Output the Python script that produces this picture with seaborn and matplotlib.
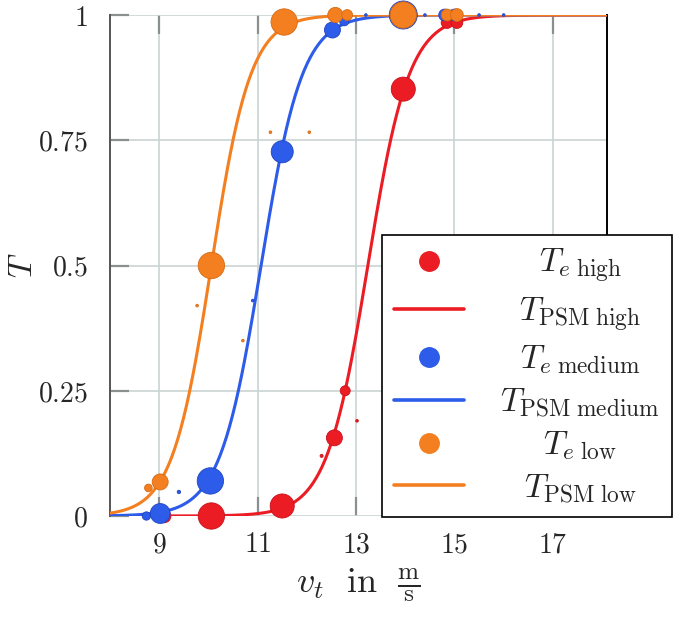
import numpy as np
import pandas as pd
import matplotlib.pyplot as plt
import seaborn as sns
from matplotlib.lines import Line2D

# measured transmission T_e per turbulence class (x = v_t, y = T, w = weight)
high_x = [9.1, 10.06, 11.5, 12.3, 12.56, 12.78, 13.02, 13.96, 14.85, 15.05]
high_y = [0.0, 0.0, 0.02, 0.12, 0.156, 0.25, 0.19, 0.852, 0.985, 0.985]
high_w = [8, 30, 25, 0.4, 11, 4.3, 0.3, 25, 6, 6]

med_x = [8.74, 9.02, 9.4, 10.04, 10.9, 11.5, 12.52, 12.76, 13.2, 13.96, 14.2, 14.4, 14.8, 15.0, 15.5, 16.0]
med_y = [0.0, 0.005, 0.048, 0.07, 0.43, 0.727, 0.97, 0.988, 1.0, 1.0, 1.0, 1.0, 1.0, 1.0, 1.0, 1.0]
med_w = [3, 17, 0.5, 30, 0.3, 21, 11, 4, 0.3, 34, 0.3, 0.3, 6, 6, 0.3, 0.3]

low_x = [8.78, 9.02, 9.77, 10.06, 10.7, 11.26, 11.54, 12.05, 12.58, 12.82, 13.96, 14.85, 15.05]
low_y = [0.056, 0.068, 0.42, 0.5, 0.35, 0.766, 0.986, 0.766, 1.0, 1.0, 1.0, 1.0, 1.0]
low_w = [2.5, 11, 0.3, 30, 0.3, 0.3, 30, 0.3, 10, 5, 30, 6, 7]

# PSM model (logistic): midpoint and scale per class
psm_mid = {"high": 13.24, "medium": 11.07, "low": 10.06}
psm_scale = {"high": 0.42, "medium": 0.42, "low": 0.40}

colors = {"high": "#ec1c24", "medium": "#2d5bea", "low": "#f47f20"}
edges = {"high": "#c8101a", "medium": "#1f45c0", "low": "#d56a12"}

sns.set_style("white")
plt.rcParams["mathtext.fontset"] = "cm"
plt.rcParams["font.family"] = ["DejaVu Serif"]

fig = plt.figure(figsize=(6.85, 6.26), dpi=100)
ax = fig.add_axes([110 / 685, 1 - 516 / 626, 497 / 685, 501 / 626])

xs = np.linspace(8, 18.1, 500)
series = [("high", high_x, high_y, high_w), ("medium", med_x, med_y, med_w), ("low", low_x, low_y, low_w)]
for name, x, y, w in series:
    curve = pd.DataFrame({"v": xs, "T": 1 / (1 + np.exp(-(xs - psm_mid[name]) / psm_scale[name]))})
    sns.lineplot(data=curve, x="v", y="T", color=colors[name], lw=2.2, ax=ax, zorder=3)
    pts = pd.DataFrame({"v": x, "T": y})
    sns.scatterplot(data=pts, x="v", y="T", s=np.array(w) * 12, color=colors[name],
                    edgecolor=edges[name], linewidth=0.6, ax=ax, zorder=4, clip_on=False)

ax.set_xlim(8, 18.1)
ax.set_ylim(0, 1)
ax.set_xticks([9, 11, 13, 15, 17])
ax.set_xticklabels([f"${v}$" for v in [9, 11, 13, 15, 17]])
ax.set_yticks([0, 0.25, 0.5, 0.75, 1])
ax.set_yticklabels(["$0$", "$0.25$", "$0.5$", "$0.75$", "$1$"])
ax.grid(True, color="#c9d3d3", lw=1.2)
ax.tick_params(direction="in", length=14, width=1.6, color="#8a9090", labelsize=20,
               top=True, bottom=True, left=True, right=False)
ax.tick_params(axis="y", pad=16)
ax.tick_params(axis="x", pad=11)
for side in ["top", "bottom"]:
    ax.spines[side].set_visible(False)
ax.spines["left"].set_color("#555555")
ax.spines["left"].set_linewidth(1.4)
ax.spines["right"].set_color("black")
ax.spines["right"].set_linewidth(1.4)

ax.set_xlabel(r"$v_t\ \ \mathrm{in}\ \ \frac{\mathrm{m}}{\mathrm{s}}$", fontsize=26, labelpad=6)
ax.set_ylabel("$T$", fontsize=24)
ax.yaxis.set_label_coords(-0.142, 0.5)

handles, labels = [], []
for name in ["high", "medium", "low"]:
    handles.append(Line2D([], [], ls="none", marker="o", ms=14, color=colors[name]))
    labels.append(r"$T_{e\ \mathrm{" + name + r"}}$")
    handles.append(Line2D([], [], color=colors[name], lw=2.6))
    labels.append(r"$T_{\mathrm{PSM}\ \mathrm{" + name + r"}}$")
leg = ax.legend(handles, labels, loc="lower left", bbox_to_anchor=(0.547, -0.002), fontsize=24,
                frameon=True, fancybox=False, edgecolor="black", framealpha=1, handlelength=2.1,
                labelspacing=0.3, borderpad=0.35, handletextpad=1.1, borderaxespad=0)
leg.get_frame().set_linewidth(1.2)
leg.set_zorder(10)

# centre legend labels like the original
fig.canvas.draw()
r = fig.canvas.get_renderer()
texts = leg.get_texts()
widths = [t.get_window_extent(r).width for t in texts]
wmax = max(widths)
for t, wd in zip(texts, widths):
    t.set_x((wmax - wd) / 2)

fig.savefig("out.png", dpi=100)
